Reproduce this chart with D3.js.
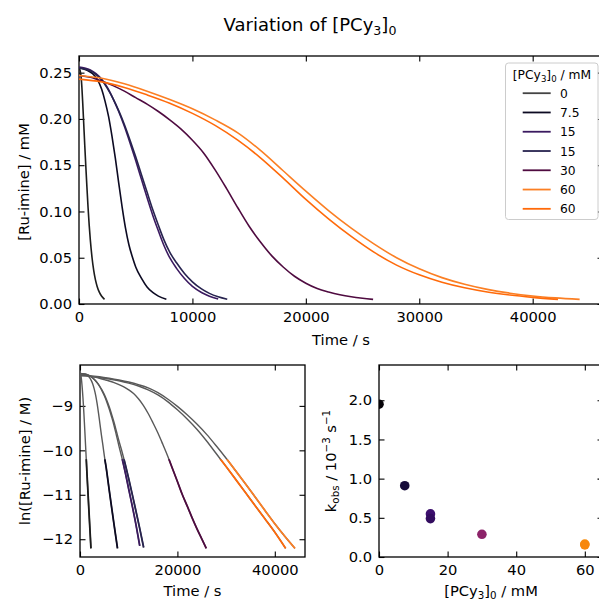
<!DOCTYPE html>
<html lang="en">
<head>
<meta charset="UTF-8">
<title>Variation of [PCy3]0</title>
<script src="https://d3js.org/d3.v7.min.js"></script>
<style>
  body { margin: 0; background: #fff; }
  svg text { font-family: "DejaVu Sans", sans-serif; fill: #000; }
</style>
</head>
<body>
<div id="chart"></div>
<script>
// runs, in the order they are plotted
var runLabels = ["0", "7.5", "15", "15", "30", "60", "60"];
var runColors = ["#1c1c1c", "#0c0a22", "#3b1a60", "#27234f", "#4f0b40", "#fb7f24", "#ff6a0a"];

// [Ru-imine] / mM against time / s
var t0 = [0, 60, 120, 180, 250, 330, 420, 510, 600, 700, 800, 900, 1000, 1150, 1300, 1450, 1600, 1800, 2000, 2250];
var c0 = [0.255, 0.254, 0.251, 0.246, 0.235, 0.217, 0.194, 0.171, 0.149, 0.126, 0.104, 0.085, 0.069, 0.050, 0.036, 0.026, 0.019, 0.0125, 0.0083, 0.0050];

var t75 = [0, 400, 800, 1200, 1600, 2000, 2300, 2600, 2900, 3200, 3500, 3800, 4100, 4400, 4700, 5000, 5500, 6000, 6500, 7000, 7700];
var c75 = [0.255, 0.254, 0.252, 0.249, 0.243, 0.232, 0.219, 0.203, 0.182, 0.158, 0.131, 0.105, 0.082, 0.064, 0.051, 0.040, 0.028, 0.0185, 0.0125, 0.0085, 0.0050];

var t15a = [0, 500, 1000, 1500, 2000, 2500, 3000, 3500, 4000, 4500, 5000, 5500, 6000, 6500, 7000, 7500, 8000, 8600, 9300, 10000, 10800, 11500, 12270];
var c15a = [0.256, 0.255, 0.253, 0.249, 0.243, 0.234, 0.222, 0.208, 0.192, 0.174, 0.155, 0.135, 0.115, 0.096, 0.079, 0.063, 0.050, 0.0385, 0.0275, 0.0190, 0.0125, 0.0085, 0.0053];

var t15b = [0, 500, 1000, 1500, 2000, 2500, 3000, 3500, 4000, 4500, 5000, 5500, 6000, 6500, 7000, 7500, 8000, 8600, 9300, 10000, 10800, 11500, 12270, 13070];
var c15b = [0.255, 0.254, 0.252, 0.248, 0.242, 0.233, 0.222, 0.209, 0.194, 0.177, 0.159, 0.140, 0.121, 0.102, 0.085, 0.069, 0.056, 0.0445, 0.0330, 0.0240, 0.0163, 0.0115, 0.0078, 0.0051];

var t30 = [0, 1000, 2000, 3000, 4000, 5000, 6000, 7000, 8000, 9000, 10000, 11000, 12000, 13000, 14000, 15000, 16000, 17000, 18000, 19000, 20000, 21000, 22000, 23000, 24000, 25000, 25930];
var c30 = [0.247, 0.245, 0.241, 0.236, 0.230, 0.223, 0.216, 0.208, 0.199, 0.189, 0.177, 0.163, 0.145, 0.125, 0.104, 0.084, 0.067, 0.052, 0.040, 0.030, 0.0225, 0.0168, 0.0130, 0.0100, 0.0078, 0.0062, 0.0050];

var t60a = [0, 2000, 4000, 6000, 8000, 10000, 12000, 14000, 16000, 18000, 20000, 22000, 24000, 26000, 28000, 30000, 32000, 34000, 36000, 38000, 40000, 42000, 44140];
var c60a = [0.247, 0.244, 0.238, 0.230, 0.221, 0.211, 0.199, 0.185, 0.166, 0.144, 0.122, 0.101, 0.082, 0.065, 0.050, 0.038, 0.0285, 0.0213, 0.0158, 0.0117, 0.0087, 0.0066, 0.0050];

var t60b = [0, 2000, 4000, 6000, 8000, 10000, 12000, 14000, 16000, 18000, 20000, 22000, 24000, 26000, 28000, 30000, 32000, 34000, 36000, 38000, 40000, 42230];
var c60b = [0.243, 0.240, 0.234, 0.226, 0.217, 0.206, 0.193, 0.177, 0.158, 0.136, 0.113, 0.092, 0.073, 0.056, 0.042, 0.0315, 0.0235, 0.0175, 0.0130, 0.0097, 0.0072, 0.0050];

var times = [t0, t75, t15a, t15b, t30, t60a, t60b];
var concs = [c0, c75, c15a, c15b, c30, c60a, c60b];

// fitted rate constants
var pcy = [0, 7.5, 15, 15, 30, 60, 60];
var kobs = [1.95, 0.91, 0.55, 0.49, 0.29, 0.165, 0.155];
var pointColors = ["#050308", "#170c3a", "#3d0f6e", "#330c5f", "#8c2369", "#f98c0a", "#f7870c"];

var fitStart = -10.2;  // ln window used for the fit

var topXTicks = [0, 10000, 20000, 30000, 40000];
var topYTicks = [0, 0.05, 0.10, 0.15, 0.20, 0.25];
var lnXTicks = [0, 20000, 40000];
var lnYTicks = [-12, -11, -10, -9];
var kXTicks = [0, 20, 40, 60];
var kYTicks = [0, 0.5, 1.0, 1.5, 2.0];

var w = 599, h = 601;
var fs = 14.7;

var svg = d3.select("#chart").append("svg")
    .attr("width", w)
    .attr("height", h);

function rich(sel, parts, size) {
    var off = 0;
    parts.forEach(function(p) {
        var shift = p[1] === "sub" ? 0.22 * size : (p[1] === "sup" ? -0.42 * size : 0);
        sel.append("tspan")
            .attr("dy", shift - off)
            .attr("font-size", p[1] ? size * 0.7 : size)
            .text(p[0]);
        off = shift;
    });
}

var clipId = 0;
function frame(x, y, xTicks, yTicks, xFmt, yFmt) {
    var r = x.range(), b = y.range();
    var g = svg.append("g");
    var tl = 5.5;
    g.append("g").attr("transform", "translate(0," + b[0] + ")")
        .call(d3.axisBottom(x).tickValues(xTicks).tickFormat(xFmt).tickSize(-tl).tickPadding(7.5));
    g.append("g").attr("transform", "translate(0," + b[1] + ")")
        .call(d3.axisTop(x).tickValues(xTicks).tickFormat("").tickSize(-tl));
    g.append("g").attr("transform", "translate(" + r[0] + ",0)")
        .call(d3.axisLeft(y).tickValues(yTicks).tickFormat(yFmt).tickSize(-tl).tickPadding(7));
    g.append("g").attr("transform", "translate(" + r[1] + ",0)")
        .call(d3.axisRight(y).tickValues(yTicks).tickFormat("").tickSize(-tl));
    g.selectAll(".domain").remove();
    g.selectAll(".tick line").attr("stroke", "#000").attr("stroke-width", 1.1);
    g.selectAll(".tick text").attr("font-size", fs).attr("font-family", "DejaVu Sans");
    g.append("rect")
        .attr("x", r[0]).attr("y", b[1])
        .attr("width", r[1] - r[0]).attr("height", b[0] - b[1])
        .attr("fill", "none").attr("stroke", "#000").attr("stroke-width", 1.3);
    var id = "clip" + (clipId++);
    svg.append("clipPath").attr("id", id).append("rect")
        .attr("x", r[0]).attr("y", b[1])
        .attr("width", r[1] - r[0]).attr("height", b[0] - b[1]);
    return "url(#" + id + ")";
}

// title
rich(svg.append("text").attr("x", 310).attr("y", 31).attr("text-anchor", "middle"),
    [["Variation of [PCy"], ["3", "sub"], ["]"], ["0", "sub"]], 18);

// ---- top panel: concentration traces ----
var x1 = d3.scaleLinear().domain([0, 46200]).range([79, 603]);
var y1 = d3.scaleLinear().domain([0, 0.268]).range([304, 56]);

var clip1 = frame(x1, y1, topXTicks, topYTicks, d3.format("d"), d3.format(".2f"));

var line1 = d3.line()
    .x(function(d) { return x1(d[0]); })
    .y(function(d) { return y1(d[1]); })
    .curve(d3.curveMonotoneX);

var traces = svg.append("g").attr("clip-path", clip1);
times.forEach(function(t, i) {
    traces.append("path")
        .datum(t.map(function(v, j) { return [v, concs[i][j]]; }))
        .attr("d", line1)
        .attr("fill", "none")
        .attr("stroke", runColors[i])
        .attr("stroke-width", 1.6);
});

svg.append("text").attr("x", 341).attr("y", 345).attr("text-anchor", "middle")
    .attr("font-size", fs).text("Time / s");
rich(svg.append("text").attr("transform", "translate(29,182) rotate(-90)").attr("text-anchor", "middle"),
    [["[Ru-imine] / mM"]], fs);

// legend
var lg = svg.append("g");
lg.append("rect")
    .attr("x", 505.5).attr("y", 63).attr("width", 92.5).attr("height", 156.5)
    .attr("rx", 3).attr("fill", "#fff").attr("fill-opacity", 0.8)
    .attr("stroke", "#cccccc").attr("stroke-width", 1);
rich(lg.append("text").attr("x", 552).attr("y", 79).attr("text-anchor", "middle"),
    [["[PCy"], ["3", "sub"], ["]"], ["0", "sub"], [" / mM"]], 12.3);
runLabels.forEach(function(lab, i) {
    var yb = 97.7 + i * 19.27;
    lg.append("line")
        .attr("x1", 522.7).attr("x2", 550.7)
        .attr("y1", yb - 4.5).attr("y2", yb - 4.5)
        .attr("stroke", i === 0 ? "#444444" : runColors[i]).attr("stroke-width", 1.8);
    lg.append("text").attr("x", 560).attr("y", yb).attr("font-size", 12.3).text(lab);
});

// ---- bottom left: ln plot ----
var x2 = d3.scaleLinear().domain([0, 46200]).range([80, 305]);
var y2 = d3.scaleLinear().domain([-12.40, -8.08]).range([557, 365]);

var clip2 = frame(x2, y2, lnXTicks, lnYTicks, d3.format("d"), d3.format("d"));

var line2 = d3.line()
    .x(function(d) { return x2(d[0]); })
    .y(function(d) { return y2(d[1]); })
    .curve(d3.curveMonotoneX);

svg.append("clipPath").attr("id", "fitclip").append("rect")
    .attr("x", 80).attr("y", y2(fitStart))
    .attr("width", 225).attr("height", 557 - y2(fitStart));

var lnG = svg.append("g").attr("clip-path", clip2);
var lnData = times.map(function(t, i) {
    return t.map(function(v, j) { return [v, Math.log(concs[i][j] / 1000)]; });
});
lnData.forEach(function(d) {
    lnG.append("path").datum(d).attr("d", line2)
        .attr("fill", "none").attr("stroke", "#595959").attr("stroke-width", 1.4);
});
var fitG = lnG.append("g").attr("clip-path", "url(#fitclip)");
lnData.forEach(function(d, i) {
    fitG.append("path").datum(d).attr("d", line2)
        .attr("fill", "none").attr("stroke", runColors[i]).attr("stroke-width", 1.8);
});

svg.append("text").attr("x", 192.5).attr("y", 596).attr("text-anchor", "middle")
    .attr("font-size", fs).text("Time / s");
rich(svg.append("text").attr("transform", "translate(30,461) rotate(-90)").attr("text-anchor", "middle"),
    [["ln([Ru-imine] / M)"]], fs);

// ---- bottom right: kobs vs [PCy3] ----
var x3 = d3.scaleLinear().domain([0, 65.3]).range([379, 603]);
var y3 = d3.scaleLinear().domain([0, 2.45]).range([557, 365]);

var clip3 = frame(x3, y3, kXTicks, kYTicks, d3.format("d"), d3.format(".1f"));

svg.append("g").attr("clip-path", clip3)
    .selectAll("circle")
    .data(pcy)
    .enter()
    .append("circle")
    .attr("cx", function(d) { return x3(d); })
    .attr("cy", function(d, i) { return y3(kobs[i]); })
    .attr("r", 4.8)
    .attr("fill", function(d, i) { return pointColors[i]; });

rich(svg.append("text").attr("x", 491).attr("y", 596).attr("text-anchor", "middle"),
    [["[PCy"], ["3", "sub"], ["]"], ["0", "sub"], [" / mM"]], fs);
rich(svg.append("text").attr("transform", "translate(336,461) rotate(-90)").attr("text-anchor", "middle"),
    [["k"], ["obs", "sub"], [" / 10"], ["\u22123", "sup"], [" s"], ["\u22121", "sup"]], fs);
</script>
</body>
</html>
